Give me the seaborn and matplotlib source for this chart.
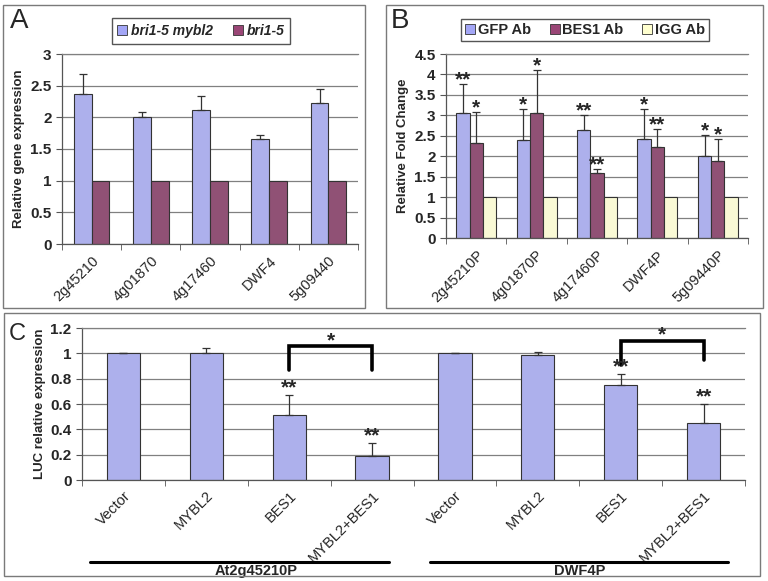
import numpy as np
import pandas as pd
import matplotlib
matplotlib.use("Agg")
import matplotlib.pyplot as plt
import seaborn as sns
from matplotlib.patches import Rectangle, Patch
from matplotlib.ticker import FuncFormatter

# Panel A: qRT-PCR in bri1-5 mybl2 vs bri1-5
genes_a = ["2g45210", "4g01870", "4g17460", "DWF4", "5g09440"]
mybl2_vals = [2.37, 2.01, 2.11, 1.66, 2.22]
mybl2_err = [0.32, 0.07, 0.23, 0.06, 0.23]
bri_vals = [1.0, 1.0, 1.0, 1.0, 1.0]
lines_a = ["bri1-5 mybl2", "bri1-5"]

# Panel B: ChIP fold change
promoters_b = ["2g45210P", "4g01870P", "4g17460P", "DWF4P", "5g09440P"]
gfp_vals = [3.06, 2.39, 2.64, 2.41, 2.01]
gfp_err = [0.71, 0.76, 0.38, 0.75, 0.50]
bes1_vals = [2.33, 3.05, 1.58, 2.22, 1.89]
bes1_err = [0.75, 1.05, 0.10, 0.45, 0.53]
igg_vals = [1.0, 1.0, 1.0, 1.0, 1.0]
antibodies_b = ["GFP Ab", "BES1 Ab", "IGG Ab"]
gfp_stars = ["**", "*", "**", "*", "*"]
bes1_stars = ["*", "*", "**", "**", "*"]

# Panel C: LUC reporter
constructs = ["Vector", "MYBL2", "BES1", "MYBL2+BES1"]
groups_c = ["At2g45210P", "DWF4P"]
luc_2g = [1.0, 1.0, 0.51, 0.19]
luc_2g_err = [0.0, 0.04, 0.16, 0.10]
luc_dwf = [1.0, 0.99, 0.75, 0.45]
luc_dwf_err = [0.0, 0.02, 0.09, 0.15]
luc_stars = ["", "", "**", "**"]
# bracket between BES1 and MYBL2+BES1: (left foot, top, right foot)
bracket_2g = [0.87, 1.055, 0.87]
bracket_dwf = [0.91, 1.10, 0.95]

BLUE = "#a3a6f6"
MAROON = "#9a4676"
CREAM = "#ffffcf"
EDGE = "#333333"
GRID = "#808080"

sns.set_style("white")
plt.rcParams["font.family"] = ["Liberation Sans", "DejaVu Sans"]

W, H = 768, 581
fig = plt.figure(figsize=(W / 100, H / 100), dpi=100)


def px_box(x0, y0, x1, y1):
    return [x0 / W, 1 - y1 / H, (x1 - x0) / W, (y1 - y0) / H]


def style_axes(ax, n, ymax, step, pad):
    ax.set_xlim(-0.5, n - 0.5)
    ax.set_ylim(0, ymax)
    ax.set_yticks(np.arange(0, ymax + step / 2, step))
    ax.yaxis.set_major_formatter(FuncFormatter(lambda v, p: "{:g}".format(round(v, 2))))
    ax.yaxis.grid(True, color=GRID, lw=0.9)
    ax.set_axisbelow(True)
    for s in ["top", "left", "bottom"]:
        ax.spines[s].set_visible(True)
        ax.spines[s].set_linewidth(0.9)
    ax.spines["top"].set_color(GRID)
    ax.spines["left"].set_color("#555555")
    ax.spines["bottom"].set_color("#555555")
    ax.spines["right"].set_visible(False)
    ax.set_xticks(range(n))
    ax.set_xticks(np.arange(-0.5, n, 1.0), minor=True)
    ax.tick_params(axis="x", which="major", length=0, pad=pad, labelsize=10.5)
    ax.tick_params(axis="x", which="minor", length=4, direction="out", color="#555555", bottom=True)
    ax.tick_params(axis="y", length=4, direction="out", color="#555555", left=True,
                   labelsize=11)
    for lab in ax.get_yticklabels():
        lab.set_fontweight("bold")
    for lab in ax.get_xticklabels():
        lab.set_rotation(45)
        lab.set_ha("right")
        lab.set_rotation_mode("anchor")
    ax.set_xlabel("")


def add_err(ax, container, errs):
    xs = [b.get_x() + b.get_width() / 2 for b in container]
    ys = [b.get_height() for b in container]
    ax.errorbar(xs, ys, yerr=[[0] * len(errs), errs], fmt="none", ecolor=EDGE,
                elinewidth=0.9, capsize=3.2, capthick=0.9)
    return xs, [y + e for y, e in zip(ys, errs)]


# ---- Panel A ----
ax_a = fig.add_axes(px_box(62, 54, 358, 244))
df_a = pd.DataFrame({
    "gene": genes_a * 2,
    "value": mybl2_vals + bri_vals,
    "line": [lines_a[0]] * 5 + [lines_a[1]] * 5,
})
sns.barplot(data=df_a, x="gene", y="value", hue="line", palette=[BLUE, MAROON],
            width=0.6, edgecolor=EDGE, linewidth=0.8, errorbar=None, legend=False, ax=ax_a)
add_err(ax_a, ax_a.containers[0], mybl2_err)
ax_a.set_xticklabels(genes_a)
style_axes(ax_a, 5, 3, 0.5, 7)
ax_a.set_ylabel("Relative gene expression", fontsize=9.5, fontweight="bold")
ax_a.legend(handles=[Patch(facecolor=BLUE, edgecolor=EDGE, lw=0.6),
                     Patch(facecolor=MAROON, edgecolor=EDGE, lw=0.6)],
            labels=lines_a, loc="center", bbox_to_anchor=(201 / W, 1 - 31 / H),
            bbox_transform=fig.transFigure, ncol=2, frameon=True, fancybox=False,
            edgecolor="#555555", framealpha=1, handlelength=0.7, handleheight=0.7,
            handletextpad=0.3, columnspacing=1.4, borderpad=0.4,
            prop={"weight": "bold", "style": "italic", "size": 10})

# ---- Panel B ----
ax_b = fig.add_axes(px_box(446, 54, 748, 238))
df_b = pd.DataFrame({
    "promoter": promoters_b * 3,
    "value": gfp_vals + bes1_vals + igg_vals,
    "ab": [antibodies_b[0]] * 5 + [antibodies_b[1]] * 5 + [antibodies_b[2]] * 5,
})
sns.barplot(data=df_b, x="promoter", y="value", hue="ab", palette=[BLUE, MAROON, CREAM],
            width=0.66, edgecolor=EDGE, linewidth=0.8, errorbar=None, legend=False, ax=ax_b)
for cont, errs, stars in [(ax_b.containers[0], gfp_err, gfp_stars),
                          (ax_b.containers[1], bes1_err, bes1_stars)]:
    xs, tops = add_err(ax_b, cont, errs)
    for x, t, s in zip(xs, tops, stars):
        ax_b.annotate(s, (x, t), xytext=(0, -1), textcoords="offset points",
                      ha="center", va="baseline", fontsize=15, fontweight="bold",
                      annotation_clip=False)
ax_b.set_xticklabels(promoters_b)
style_axes(ax_b, 5, 4.5, 0.5, 7)
ax_b.set_ylabel("Relative Fold Change", fontsize=9.5, fontweight="bold")
ax_b.legend(handles=[Patch(facecolor=c, edgecolor=EDGE, lw=0.6) for c in [BLUE, MAROON, CREAM]],
            labels=antibodies_b, loc="center", bbox_to_anchor=(585 / W, 1 - 30 / H),
            bbox_transform=fig.transFigure, ncol=3, frameon=True, fancybox=False,
            edgecolor="#555555", framealpha=1, handlelength=0.7, handleheight=0.7,
            handletextpad=0.15, columnspacing=1.3, borderpad=0.3,
            prop={"weight": "bold", "size": 10.5})

# ---- Panel C ----
ax_c = fig.add_axes(px_box(82, 328, 745, 480))
keys_c = [c + "|" + g for g in groups_c for c in constructs]
sns.barplot(x=keys_c, y=luc_2g + luc_dwf, order=keys_c, color=BLUE, width=0.4,
            edgecolor=EDGE, linewidth=0.8, errorbar=None, ax=ax_c)
xs_c, tops_c = add_err(ax_c, ax_c.containers[0], luc_2g_err + luc_dwf_err)
for x, t, s in zip(xs_c, tops_c, luc_stars * 2):
    if s:
        ax_c.annotate(s, (x, t), xytext=(0, 1), textcoords="offset points",
                      ha="center", va="baseline", fontsize=15, fontweight="bold")
ax_c.set_xticklabels(constructs * 2)
style_axes(ax_c, 8, 1.2, 0.2, 6)
ax_c.set_ylabel("LUC relative expression", fontsize=9.5, fontweight="bold", labelpad=3)
for i, br in [(2, bracket_2g), (6, bracket_dwf)]:
    xl, xr = xs_c[i], xs_c[i + 1]
    ax_c.plot([xl, xl, xr, xr], [br[0], br[1], br[1], br[2]], color="black", lw=2.6,
              solid_joinstyle="miter", clip_on=False)
    ax_c.annotate("*", ((xl + xr) / 2, br[1]), xytext=(0, 0), textcoords="offset points",
                  ha="center", va="baseline", fontsize=15, fontweight="bold",
                  annotation_clip=False)
# promoter group bars under the labels
tr = ax_c.get_xaxis_transform()
for (x0, x1), xm, name in zip([(-0.4, 3.2), (3.7, 7.3)], [1.6, 5.5], groups_c):
    ax_c.plot([x0, x1], [-0.54, -0.54], color="black", lw=2.2, transform=tr, clip_on=False)
    ax_c.text(xm, -0.60, name, transform=tr, ha="center", va="center",
              fontsize=10.5, fontweight="bold")

# panel frames and letters
for box in [(3, 5, 365, 308), (386, 5, 763, 308), (4, 313, 760, 576)]:
    x0, y0, x1, y1 = box
    fig.add_artist(Rectangle((x0 / W, 1 - y1 / H), (x1 - x0) / W, (y1 - y0) / H,
                             transform=fig.transFigure, fill=False,
                             edgecolor="#7a7a7a", lw=1.0))
fig.text(10 / W, 1 - 8 / H, "A", fontsize=20, va="top", ha="left")
fig.text(391 / W, 1 - 8 / H, "B", fontsize=20, va="top", ha="left")
fig.text(9 / W, 1 - 323 / H, "C", fontsize=17, va="top", ha="left")

fig.savefig("out.png", dpi=100, facecolor="white")
